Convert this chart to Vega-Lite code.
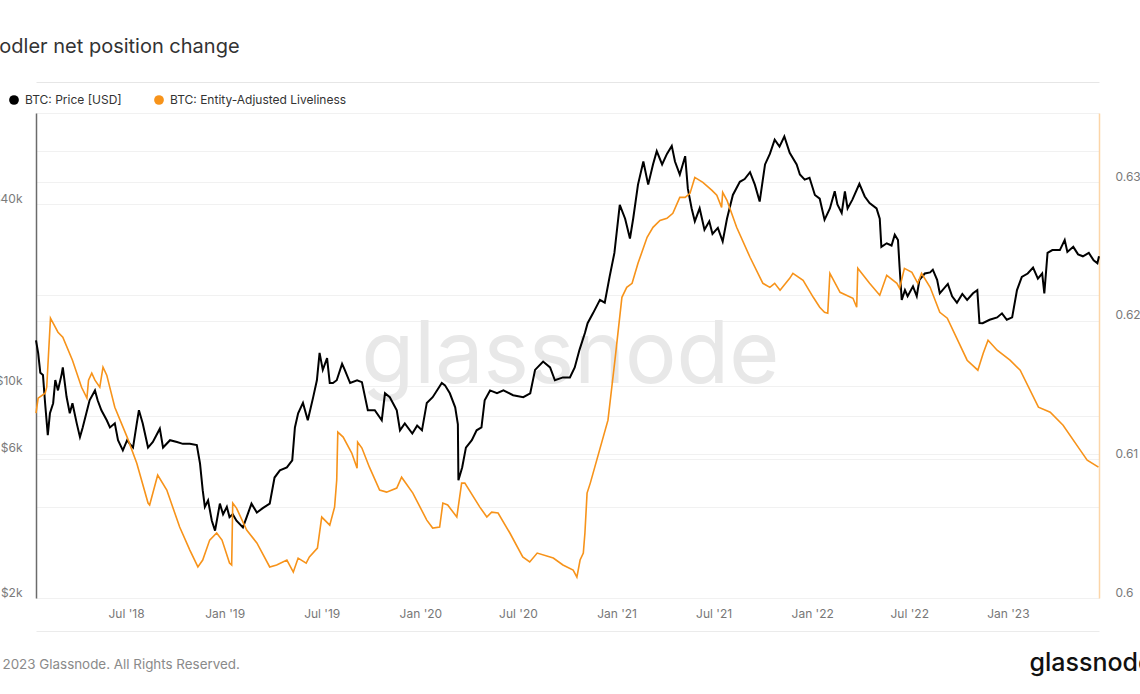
{
  "$schema": "https://vega.github.io/schema/vega-lite/v6.json",
  "width": 1063,
  "height": 485,
  "autosize": {"type": "none"},
  "padding": {"left": 36, "top": 113, "right": 41, "bottom": 96},
  "background": "#ffffff",
  "config": {
    "font": "Inter",
    "view": {"stroke": null},
    "axis": {"labelFont": "Inter", "titleFont": "Inter"},
    "legend": {"labelFont": "Inter"}
  },
  "datasets": {
    "price": [
      {"date": "2018-01-14", "price": 14200}, {"date": "2018-01-18", "price": 12900}, {"date": "2018-01-22", "price": 11100},
      {"date": "2018-01-27", "price": 10900}, {"date": "2018-01-31", "price": 8800}, {"date": "2018-02-05", "price": 6900},
      {"date": "2018-02-09", "price": 8150}, {"date": "2018-02-15", "price": 8800}, {"date": "2018-02-19", "price": 10500},
      {"date": "2018-02-24", "price": 9700}, {"date": "2018-03-03", "price": 11000}, {"date": "2018-03-05", "price": 11550},
      {"date": "2018-03-12", "price": 9240}, {"date": "2018-03-18", "price": 8150}, {"date": "2018-03-23", "price": 8800},
      {"date": "2018-03-31", "price": 7550}, {"date": "2018-04-06", "price": 6800}, {"date": "2018-04-11", "price": 7300},
      {"date": "2018-04-24", "price": 9000}, {"date": "2018-05-04", "price": 9700}, {"date": "2018-05-09", "price": 9000},
      {"date": "2018-05-16", "price": 8340}, {"date": "2018-05-26", "price": 7730}, {"date": "2018-06-01", "price": 7320},
      {"date": "2018-06-10", "price": 7550}, {"date": "2018-06-16", "price": 6640}, {"date": "2018-06-25", "price": 6150},
      {"date": "2018-07-03", "price": 6640}, {"date": "2018-07-08", "price": 6460}, {"date": "2018-07-14", "price": 6280},
      {"date": "2018-07-21", "price": 7550}, {"date": "2018-07-25", "price": 8340}, {"date": "2018-08-01", "price": 7550},
      {"date": "2018-08-11", "price": 6280}, {"date": "2018-08-20", "price": 6550}, {"date": "2018-09-02", "price": 7250},
      {"date": "2018-09-08", "price": 6280}, {"date": "2018-09-21", "price": 6640}, {"date": "2018-10-04", "price": 6550},
      {"date": "2018-10-15", "price": 6460}, {"date": "2018-10-28", "price": 6460}, {"date": "2018-11-10", "price": 6400},
      {"date": "2018-11-16", "price": 5560}, {"date": "2018-11-21", "price": 4540}, {"date": "2018-11-25", "price": 4000},
      {"date": "2018-12-01", "price": 4200}, {"date": "2018-12-08", "price": 3600}, {"date": "2018-12-14", "price": 3340},
      {"date": "2018-12-23", "price": 4100}, {"date": "2018-12-29", "price": 3780}, {"date": "2019-01-05", "price": 4000},
      {"date": "2019-01-10", "price": 3700}, {"date": "2019-01-16", "price": 3780}, {"date": "2019-01-23", "price": 3600},
      {"date": "2019-02-04", "price": 3420}, {"date": "2019-02-11", "price": 3700}, {"date": "2019-02-20", "price": 4100},
      {"date": "2019-03-02", "price": 3830}, {"date": "2019-03-13", "price": 3960}, {"date": "2019-03-26", "price": 4100},
      {"date": "2019-04-04", "price": 5000}, {"date": "2019-04-14", "price": 5280}, {"date": "2019-04-27", "price": 5400},
      {"date": "2019-05-07", "price": 5700}, {"date": "2019-05-12", "price": 7320}, {"date": "2019-05-18", "price": 8150},
      {"date": "2019-05-27", "price": 8820}, {"date": "2019-06-05", "price": 7730}, {"date": "2019-06-15", "price": 9200},
      {"date": "2019-06-22", "price": 10480}, {"date": "2019-06-27", "price": 12900}, {"date": "2019-07-03", "price": 11340},
      {"date": "2019-07-11", "price": 12400}, {"date": "2019-07-16", "price": 10260}, {"date": "2019-07-22", "price": 10260},
      {"date": "2019-07-29", "price": 10480}, {"date": "2019-08-08", "price": 11870}, {"date": "2019-08-13", "price": 11340},
      {"date": "2019-08-23", "price": 10260}, {"date": "2019-09-05", "price": 10480}, {"date": "2019-09-14", "price": 10330},
      {"date": "2019-09-25", "price": 8340}, {"date": "2019-10-08", "price": 8340}, {"date": "2019-10-21", "price": 7730},
      {"date": "2019-10-27", "price": 9490}, {"date": "2019-11-05", "price": 9210}, {"date": "2019-11-18", "price": 8340},
      {"date": "2019-11-24", "price": 7160}, {"date": "2019-12-03", "price": 7550}, {"date": "2019-12-17", "price": 6990},
      {"date": "2019-12-26", "price": 7420}, {"date": "2020-01-04", "price": 7160}, {"date": "2020-01-13", "price": 8820},
      {"date": "2020-01-24", "price": 9210}, {"date": "2020-02-10", "price": 10260}, {"date": "2020-02-16", "price": 10080},
      {"date": "2020-02-25", "price": 9490}, {"date": "2020-03-06", "price": 8530}, {"date": "2020-03-11", "price": 7500},
      {"date": "2020-03-12", "price": 4900}, {"date": "2020-03-19", "price": 5400}, {"date": "2020-03-26", "price": 6280},
      {"date": "2020-04-06", "price": 6640}, {"date": "2020-04-15", "price": 7160}, {"date": "2020-04-24", "price": 7320},
      {"date": "2020-04-30", "price": 9000}, {"date": "2020-05-10", "price": 9700}, {"date": "2020-05-23", "price": 9490},
      {"date": "2020-06-04", "price": 9700}, {"date": "2020-06-22", "price": 9350}, {"date": "2020-07-11", "price": 9210},
      {"date": "2020-07-24", "price": 9490}, {"date": "2020-08-02", "price": 11340}, {"date": "2020-08-17", "price": 12080},
      {"date": "2020-08-30", "price": 11550}, {"date": "2020-09-08", "price": 10480}, {"date": "2020-09-23", "price": 10710},
      {"date": "2020-10-06", "price": 10710}, {"date": "2020-10-15", "price": 11550}, {"date": "2020-10-24", "price": 13230},
      {"date": "2020-11-03", "price": 15000}, {"date": "2020-11-08", "price": 16170}, {"date": "2020-11-18", "price": 17430},
      {"date": "2020-12-01", "price": 19320}, {"date": "2020-12-10", "price": 18900}, {"date": "2020-12-19", "price": 23000},
      {"date": "2020-12-28", "price": 27600}, {"date": "2021-01-07", "price": 39800}, {"date": "2021-01-17", "price": 35800},
      {"date": "2021-01-26", "price": 30800}, {"date": "2021-02-01", "price": 35800}, {"date": "2021-02-10", "price": 46400},
      {"date": "2021-02-20", "price": 55300}, {"date": "2021-03-01", "price": 46400}, {"date": "2021-03-10", "price": 54100},
      {"date": "2021-03-17", "price": 59850}, {"date": "2021-03-27", "price": 54100}, {"date": "2021-04-05", "price": 58600},
      {"date": "2021-04-14", "price": 62300}, {"date": "2021-04-20", "price": 55300}, {"date": "2021-04-29", "price": 50100},
      {"date": "2021-05-09", "price": 57600}, {"date": "2021-05-14", "price": 45000}, {"date": "2021-05-21", "price": 38750},
      {"date": "2021-05-27", "price": 35100}, {"date": "2021-06-05", "price": 38750}, {"date": "2021-06-14", "price": 32900},
      {"date": "2021-06-23", "price": 35100}, {"date": "2021-06-29", "price": 31900}, {"date": "2021-07-09", "price": 33400},
      {"date": "2021-07-18", "price": 30100}, {"date": "2021-07-26", "price": 35800}, {"date": "2021-08-06", "price": 42900},
      {"date": "2021-08-19", "price": 47400}, {"date": "2021-08-28", "price": 48400}, {"date": "2021-09-07", "price": 51000},
      {"date": "2021-09-16", "price": 46400}, {"date": "2021-09-25", "price": 40800}, {"date": "2021-10-05", "price": 54100},
      {"date": "2021-10-14", "price": 58600}, {"date": "2021-10-23", "price": 65300}, {"date": "2021-11-01", "price": 61950},
      {"date": "2021-11-10", "price": 66900}, {"date": "2021-11-20", "price": 59100}, {"date": "2021-12-03", "price": 54100},
      {"date": "2021-12-09", "price": 50100}, {"date": "2021-12-18", "price": 48200}, {"date": "2021-12-27", "price": 48900},
      {"date": "2022-01-06", "price": 42900}, {"date": "2022-01-15", "price": 41700}, {"date": "2022-01-24", "price": 35500},
      {"date": "2022-02-03", "price": 38700}, {"date": "2022-02-12", "price": 44100}, {"date": "2022-02-17", "price": 39900},
      {"date": "2022-02-25", "price": 37400}, {"date": "2022-03-03", "price": 44100}, {"date": "2022-03-08", "price": 38700},
      {"date": "2022-03-17", "price": 41400}, {"date": "2022-03-30", "price": 46700}, {"date": "2022-04-09", "price": 42400},
      {"date": "2022-04-18", "price": 40300}, {"date": "2022-05-01", "price": 38700}, {"date": "2022-05-07", "price": 35800},
      {"date": "2022-05-10", "price": 28900}, {"date": "2022-05-20", "price": 29700}, {"date": "2022-05-29", "price": 29200},
      {"date": "2022-06-04", "price": 31700}, {"date": "2022-06-10", "price": 30450}, {"date": "2022-06-13", "price": 24800},
      {"date": "2022-06-17", "price": 19300}, {"date": "2022-06-23", "price": 20800}, {"date": "2022-06-28", "price": 19850},
      {"date": "2022-07-08", "price": 21400}, {"date": "2022-07-15", "price": 19850}, {"date": "2022-07-20", "price": 22500},
      {"date": "2022-07-30", "price": 23600}, {"date": "2022-08-09", "price": 23800}, {"date": "2022-08-14", "price": 24300},
      {"date": "2022-08-22", "price": 22500}, {"date": "2022-08-27", "price": 20300}, {"date": "2022-09-11", "price": 21800},
      {"date": "2022-09-19", "price": 19850}, {"date": "2022-09-28", "price": 18900}, {"date": "2022-10-08", "price": 20200},
      {"date": "2022-10-17", "price": 19300}, {"date": "2022-10-28", "price": 20300}, {"date": "2022-11-05", "price": 20800},
      {"date": "2022-11-09", "price": 16200}, {"date": "2022-11-15", "price": 16170}, {"date": "2022-11-28", "price": 16600},
      {"date": "2022-12-12", "price": 16900}, {"date": "2022-12-21", "price": 17430}, {"date": "2022-12-30", "price": 16600},
      {"date": "2023-01-09", "price": 16900}, {"date": "2023-01-18", "price": 20800}, {"date": "2023-01-27", "price": 23000},
      {"date": "2023-02-07", "price": 23600}, {"date": "2023-02-17", "price": 24700}, {"date": "2023-02-26", "price": 22700},
      {"date": "2023-03-06", "price": 23600}, {"date": "2023-03-10", "price": 20300}, {"date": "2023-03-16", "price": 27600},
      {"date": "2023-03-25", "price": 28200}, {"date": "2023-04-08", "price": 28200}, {"date": "2023-04-17", "price": 30450},
      {"date": "2023-04-22", "price": 27800}, {"date": "2023-05-03", "price": 28900}, {"date": "2023-05-12", "price": 27300},
      {"date": "2023-05-21", "price": 26900}, {"date": "2023-06-01", "price": 27600}, {"date": "2023-06-10", "price": 26100},
      {"date": "2023-06-17", "price": 25500}, {"date": "2023-06-20", "price": 26900}
    ],
    "live": [
      {"date": "2018-01-14", "v": 0.61334}, {"date": "2018-01-18", "v": 0.61442}, {"date": "2018-01-31", "v": 0.61478},
      {"date": "2018-02-03", "v": 0.61521}, {"date": "2018-02-10", "v": 0.62019}, {"date": "2018-02-15", "v": 0.61983},
      {"date": "2018-02-24", "v": 0.61918}, {"date": "2018-03-05", "v": 0.61882}, {"date": "2018-03-23", "v": 0.61716},
      {"date": "2018-04-09", "v": 0.61521}, {"date": "2018-04-19", "v": 0.61442}, {"date": "2018-04-22", "v": 0.61572},
      {"date": "2018-04-28", "v": 0.61622}, {"date": "2018-05-04", "v": 0.61572}, {"date": "2018-05-13", "v": 0.61521},
      {"date": "2018-05-19", "v": 0.61666}, {"date": "2018-05-26", "v": 0.61608}, {"date": "2018-06-10", "v": 0.61377},
      {"date": "2018-07-03", "v": 0.61161}, {"date": "2018-07-21", "v": 0.60973}, {"date": "2018-08-11", "v": 0.60685},
      {"date": "2018-08-14", "v": 0.60671}, {"date": "2018-08-29", "v": 0.60887}, {"date": "2018-09-15", "v": 0.60779},
      {"date": "2018-10-09", "v": 0.60512}, {"date": "2018-10-28", "v": 0.60346}, {"date": "2018-11-12", "v": 0.60224},
      {"date": "2018-11-21", "v": 0.60274}, {"date": "2018-12-04", "v": 0.60418}, {"date": "2018-12-17", "v": 0.60469},
      {"date": "2018-12-27", "v": 0.60418}, {"date": "2019-01-10", "v": 0.60252}, {"date": "2019-01-14", "v": 0.60238},
      {"date": "2019-01-16", "v": 0.60685}, {"date": "2019-01-23", "v": 0.60649}, {"date": "2019-02-11", "v": 0.60490},
      {"date": "2019-03-02", "v": 0.60397}, {"date": "2019-03-26", "v": 0.60224}, {"date": "2019-04-08", "v": 0.60238},
      {"date": "2019-04-27", "v": 0.60274}, {"date": "2019-05-09", "v": 0.60187}, {"date": "2019-05-18", "v": 0.60288},
      {"date": "2019-06-02", "v": 0.60252}, {"date": "2019-06-08", "v": 0.60296}, {"date": "2019-06-23", "v": 0.60360},
      {"date": "2019-07-01", "v": 0.60584}, {"date": "2019-07-16", "v": 0.60526}, {"date": "2019-07-25", "v": 0.60656},
      {"date": "2019-07-29", "v": 0.60851}, {"date": "2019-07-31", "v": 0.61197}, {"date": "2019-08-10", "v": 0.61161},
      {"date": "2019-08-26", "v": 0.61046}, {"date": "2019-09-05", "v": 0.60937}, {"date": "2019-09-06", "v": 0.61125},
      {"date": "2019-09-14", "v": 0.61082}, {"date": "2019-09-28", "v": 0.60944}, {"date": "2019-10-17", "v": 0.60779},
      {"date": "2019-10-30", "v": 0.60764}, {"date": "2019-11-18", "v": 0.60793}, {"date": "2019-11-27", "v": 0.60872},
      {"date": "2019-12-18", "v": 0.60757}, {"date": "2020-01-13", "v": 0.60562}, {"date": "2020-01-24", "v": 0.60505},
      {"date": "2020-02-06", "v": 0.60512}, {"date": "2020-02-12", "v": 0.60685}, {"date": "2020-02-21", "v": 0.60671},
      {"date": "2020-03-09", "v": 0.60584}, {"date": "2020-03-18", "v": 0.60829}, {"date": "2020-03-24", "v": 0.60829},
      {"date": "2020-04-21", "v": 0.60656}, {"date": "2020-05-04", "v": 0.60584}, {"date": "2020-05-13", "v": 0.60620},
      {"date": "2020-05-25", "v": 0.60613}, {"date": "2020-06-16", "v": 0.60469}, {"date": "2020-07-10", "v": 0.60296},
      {"date": "2020-07-23", "v": 0.60260}, {"date": "2020-08-06", "v": 0.60324}, {"date": "2020-09-05", "v": 0.60288},
      {"date": "2020-09-23", "v": 0.60238}, {"date": "2020-10-12", "v": 0.60202}, {"date": "2020-10-19", "v": 0.60151},
      {"date": "2020-10-25", "v": 0.60274}, {"date": "2020-10-31", "v": 0.60324}, {"date": "2020-11-03", "v": 0.60469},
      {"date": "2020-11-07", "v": 0.60757}, {"date": "2020-11-13", "v": 0.60829}, {"date": "2020-12-16", "v": 0.61283},
      {"date": "2020-12-29", "v": 0.61716}, {"date": "2021-01-11", "v": 0.62170}, {"date": "2021-01-20", "v": 0.62242},
      {"date": "2021-01-30", "v": 0.62271}, {"date": "2021-02-10", "v": 0.62415}, {"date": "2021-02-27", "v": 0.62603},
      {"date": "2021-03-10", "v": 0.62675}, {"date": "2021-03-23", "v": 0.62725}, {"date": "2021-04-05", "v": 0.62740},
      {"date": "2021-04-16", "v": 0.62776}, {"date": "2021-04-29", "v": 0.62891}, {"date": "2021-05-09", "v": 0.62891},
      {"date": "2021-05-18", "v": 0.62920}, {"date": "2021-05-27", "v": 0.63035}, {"date": "2021-06-11", "v": 0.62999},
      {"date": "2021-06-28", "v": 0.62942}, {"date": "2021-07-07", "v": 0.62906}, {"date": "2021-07-16", "v": 0.62819},
      {"date": "2021-07-18", "v": 0.62927}, {"date": "2021-07-26", "v": 0.62870}, {"date": "2021-08-13", "v": 0.62675},
      {"date": "2021-09-07", "v": 0.62459}, {"date": "2021-10-01", "v": 0.62271}, {"date": "2021-10-14", "v": 0.62242},
      {"date": "2021-10-23", "v": 0.62271}, {"date": "2021-11-02", "v": 0.62221}, {"date": "2021-11-20", "v": 0.62307},
      {"date": "2021-11-26", "v": 0.62343}, {"date": "2021-12-15", "v": 0.62293}, {"date": "2022-01-03", "v": 0.62170},
      {"date": "2022-01-15", "v": 0.62098}, {"date": "2022-01-24", "v": 0.62062}, {"date": "2022-01-30", "v": 0.62055},
      {"date": "2022-02-03", "v": 0.62343}, {"date": "2022-02-22", "v": 0.62206}, {"date": "2022-03-18", "v": 0.62163},
      {"date": "2022-03-25", "v": 0.62098}, {"date": "2022-03-27", "v": 0.62379}, {"date": "2022-04-18", "v": 0.62271},
      {"date": "2022-05-07", "v": 0.62185}, {"date": "2022-05-20", "v": 0.62329}, {"date": "2022-06-08", "v": 0.62271},
      {"date": "2022-06-13", "v": 0.62235}, {"date": "2022-06-22", "v": 0.62379}, {"date": "2022-07-06", "v": 0.62350},
      {"date": "2022-07-17", "v": 0.62271}, {"date": "2022-07-24", "v": 0.62343}, {"date": "2022-08-09", "v": 0.62242},
      {"date": "2022-08-27", "v": 0.62062}, {"date": "2022-09-10", "v": 0.62019}, {"date": "2022-10-17", "v": 0.61716},
      {"date": "2022-11-06", "v": 0.61644}, {"date": "2022-11-16", "v": 0.61767}, {"date": "2022-11-25", "v": 0.61860},
      {"date": "2022-12-12", "v": 0.61788}, {"date": "2023-01-05", "v": 0.61716}, {"date": "2023-01-24", "v": 0.61644},
      {"date": "2023-02-27", "v": 0.61377}, {"date": "2023-03-21", "v": 0.61341}, {"date": "2023-04-14", "v": 0.61247},
      {"date": "2023-05-16", "v": 0.61067}, {"date": "2023-05-29", "v": 0.60995}, {"date": "2023-06-19", "v": 0.60944}
    ]
  },
  "layer": [
    {
      "data": {"name": "price"},
      "mark": {"type": "line", "strokeWidth": 2, "interpolate": "linear"},
      "encoding": {
        "x": {
          "field": "date", "type": "temporal",
          "scale": {"domain": [{"year": 2018, "month": 1, "date": 14}, {"year": 2023, "month": 6, "date": 20}]},
          "axis": {
            "orient": "bottom", "offset": 33, "format": "%b '%y",
            "tickCount": {"interval": "month", "step": 6},
            "ticks": false, "grid": false, "labelPadding": -23, "labelFlush": false,
            "labelColor": "#777777", "labelFontSize": 12,
            "domainColor": "#ebebeb", "domainWidth": 1,
            "title": "© 2023 Glassnode. All Rights Reserved.",
            "titleX": -50, "titleY": 37, "titleAlign": "left", "titleAnchor": "start", "titleBaseline": "alphabetic",
            "titleFontSize": 13.4, "titleFontWeight": 400, "titleColor": "#8a8a8a"
          }
        },
        "y": {
          "field": "price", "type": "quantitative",
          "scale": {"type": "log", "domain": [2000, 80000], "nice": false},
          "axis": {
            "orient": "left",
            "values": [2000, 4000, 6000, 8000, 10000, 20000, 40000, 60000, 80000],
            "labelExpr": "indexof([2000, 6000, 10000, 40000], datum.value) >= 0 ? '$' + (datum.value / 1000) + 'k' : ''",
            "labelBaseline": "alphabetic", "labelPadding": 14, "labelOverlap": false, "labelOffset": -2,
            "labelColor": "#7a7a7a", "labelFontSize": 12,
            "ticks": false, "grid": true, "gridColor": "#f1f1f1", "gridWidth": 1,
            "domainColor": "#6b6b6b", "domainWidth": 1.5,
            "title": "glassnode",
            "titleX": 534, "titleY": 269, "titleAngle": 0, "titleAlign": "center", "titleBaseline": "alphabetic",
            "titleFontSize": 86, "titleFontWeight": 400, "titleColor": "#e8e8e8"
          }
        },
        "color": {
          "datum": "BTC: Price [USD]",
          "scale": {"domain": ["BTC: Price [USD]", "BTC: Entity-Adjusted Liveliness"], "range": ["#000000", "#f7931a"]},
          "legend": {
            "orient": "none", "legendX": -28, "legendY": -19, "direction": "horizontal",
            "title": null, "symbolType": "circle", "symbolSize": 95, "padding": 0,
            "labelFontSize": 12, "labelColor": "#333333", "labelOffset": 5, "columnPadding": 31, "labelLimit": 0,
            "encode": {"symbols": {"update": {"fill": {"scale": "color", "field": "value"}, "strokeWidth": {"value": 0}}}}
          }
        }
      }
    },
    {
      "data": {"name": "live"},
      "mark": {"type": "line", "strokeWidth": 1.6, "interpolate": "linear"},
      "encoding": {
        "x": {
          "field": "date", "type": "temporal",
          "axis": {
            "orient": "top", "offset": 31, "labels": false, "ticks": false, "grid": false,
            "domainColor": "#e6e6e6", "domainWidth": 1,
            "title": "Hodler net position change",
            "titleX": -52, "titleY": -30, "titleAlign": "left", "titleAnchor": "start", "titleBaseline": "alphabetic",
            "titleFontSize": 20, "titleFontWeight": 400, "titleColor": "#333333"
          }
        },
        "y": {
          "field": "v", "type": "quantitative",
          "scale": {"domain": [0.6, 0.635], "nice": false, "zero": false},
          "axis": {
            "orient": "right", "values": [0.6, 0.61, 0.62, 0.63], "format": "~g",
            "labelBaseline": "alphabetic", "labelPadding": 16, "labelOverlap": false, "labelOffset": -2,
            "labelColor": "#7a7a7a", "labelFontSize": 12,
            "ticks": false, "grid": true, "gridColor": "#f1f1f1", "gridWidth": 1,
            "domainColor": "#fcd5a8", "domainWidth": 1.5,
            "title": "glassnode",
            "titleX": -70, "titleY": 557, "titleAngle": 0, "titleAlign": "left", "titleBaseline": "alphabetic",
            "titleFontSize": 25, "titleFontWeight": 500, "titleColor": "#111111"
          }
        },
        "color": {"datum": "BTC: Entity-Adjusted Liveliness"}
      }
    }
  ],
  "resolve": {"scale": {"y": "independent"}, "axis": {"x": "independent", "y": "independent"}}
}
